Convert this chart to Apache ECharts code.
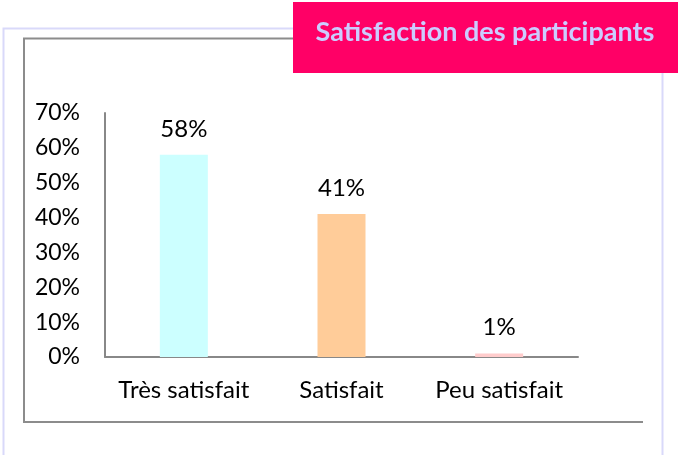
<!DOCTYPE html>
<html>
<head>
<meta charset="utf-8">
<script src="https://cdn.jsdelivr.net/npm/echarts@6/dist/echarts.min.js"></script>
<style>
  html, body { margin: 0; padding: 0; background: #fff; }
  #main { width: 678px; height: 455px; }
</style>
</head>
<body>
<div id="main"></div>
<script>
// données du graphique
var categories = ['Très satisfait', 'Satisfait', 'Peu satisfait'];
var values = [58, 41, 1];
var barColors = ['#CCFFFF', '#FFCC99', '#FFCCCC'];
var titleText = 'Satisfaction des participants';

var chart = echarts.init(document.getElementById('main'), null, { renderer: 'canvas' });

var option = {
  backgroundColor: '#fff',
  textStyle: { fontFamily: 'Lato' },
  grid: { left: 105, right: 100, top: 113, bottom: 98, containLabel: false },
  xAxis: {
    type: 'category',
    data: categories,
    axisLine: { show: true, lineStyle: { color: '#888', width: 2 } },
    axisTick: { show: false },
    axisLabel: { color: '#000', fontSize: 24, fontFamily: 'Lato', margin: 21,
      interval: 0, hideOverlap: false }
  },
  yAxis: {
    type: 'value',
    min: 0,
    max: 70,
    interval: 10,
    axisLine: { show: true, lineStyle: { color: '#888', width: 2 } },
    axisTick: { show: false },
    splitLine: { show: false },
    axisLabel: {
      color: '#000', fontSize: 23, fontFamily: 'Lato', margin: 25,
      formatter: function (v) { return v + '%'; }
    }
  },
  series: [{
    type: 'bar',
    barWidth: 48,
    data: values.map(function (v, i) {
      return { value: v, itemStyle: { color: barColors[i] } };
    }),
    label: {
      show: true,
      position: 'top',
      distance: 14,
      color: '#000',
      fontSize: 24,
      fontFamily: 'Lato',
      formatter: function (p) { return p.value + '%'; }
    }
  }],
  graphic: [
    // cadre extérieur lavande
    { type: 'polyline', silent: true, z: -1,
      shape: { points: [[3.5, 455], [3.5, 28.5], [293, 28.5]] },
      style: { stroke: '#D9D9FA', lineWidth: 2, fill: null } },
    { type: 'line', silent: true, z: -1,
      shape: { x1: 662.5, y1: 73, x2: 662.5, y2: 455 },
      style: { stroke: '#D9D9FA', lineWidth: 2 } },
    // cadre gris
    { type: 'polyline', silent: true, z: -1,
      shape: { points: [[293, 38.5], [24, 38.5], [24, 422], [643, 422]] },
      style: { stroke: '#8C8C8C', lineWidth: 2, fill: null } },
    // bandeau du titre
    { type: 'rect', silent: true, z: 10,
      shape: { x: 293, y: 2, width: 385, height: 71 },
      style: { fill: '#FF0066' } },
    { type: 'text', silent: true, z: 11,
      x: 485, y: 32,
      style: { text: titleText, fill: '#CCCCFF', font: 'bold 27px Lato',
        align: 'center', verticalAlign: 'middle' } }
  ]
};

chart.setOption(option);
</script>
</body>
</html>
